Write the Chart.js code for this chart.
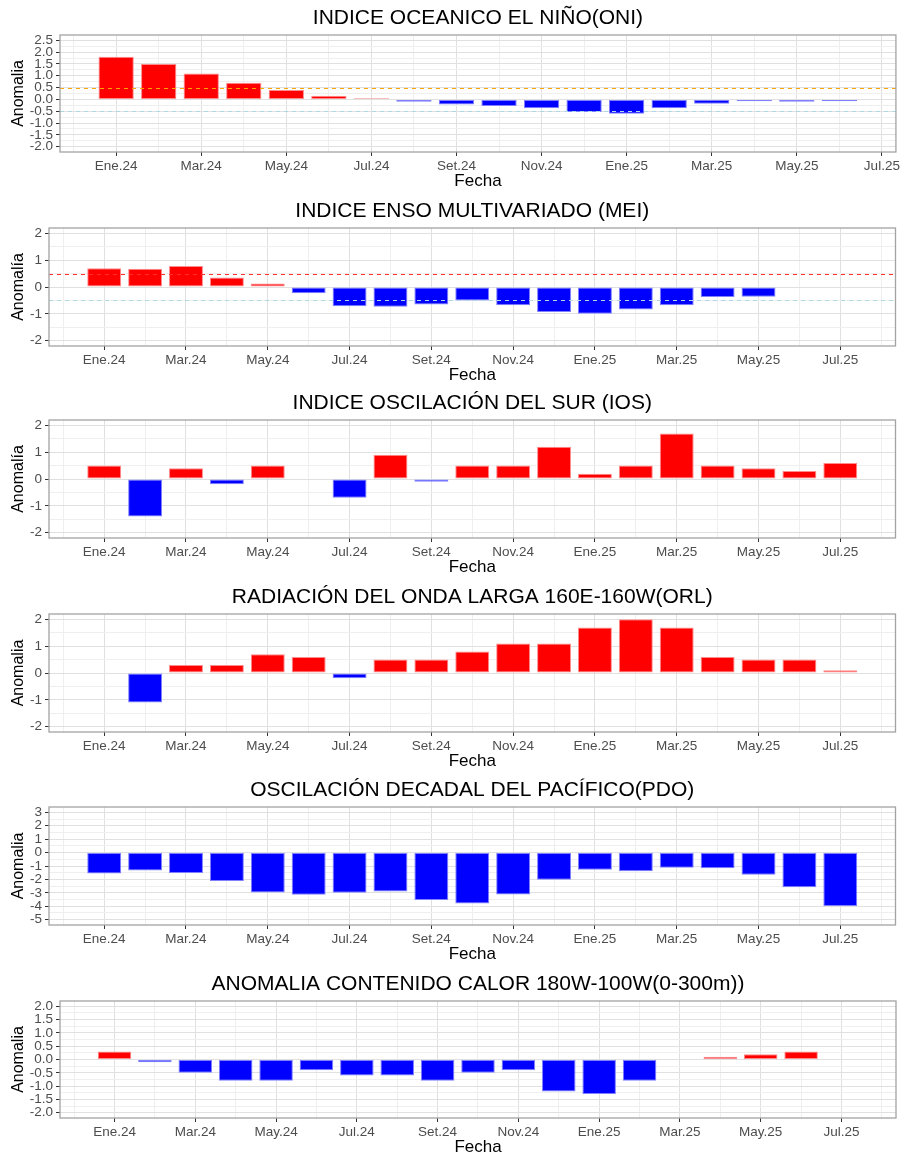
<!DOCTYPE html>
<html>
<head>
<meta charset="utf-8">
<title>Indices ENSO</title>
<script src="https://cdn.jsdelivr.net/npm/chart.js@4.4.1/dist/chart.umd.min.js"></script>
<style>
  body { margin: 0; background: #fff; }
  .panel { position: absolute; left: 0; width: 902px; }
</style>
</head>
<body>
<div class="panel" style="top:5px;height:188px"><canvas id="oni"></canvas></div>
<div class="panel" style="top:198px;height:189px"><canvas id="mei"></canvas></div>
<div class="panel" style="top:390px;height:189px"><canvas id="ios"></canvas></div>
<div class="panel" style="top:584px;height:189px"><canvas id="orl"></canvas></div>
<div class="panel" style="top:777px;height:189px"><canvas id="pdo"></canvas></div>
<div class="panel" style="top:971px;height:188px"><canvas id="calor"></canvas></div>
<script>
// meses (indice 0 = Ene.24)
const meses = ['Ene.24', 'Feb.24', 'Mar.24', 'Abr.24', 'May.24', 'Jun.24', 'Jul.24', 'Ago.24', 'Set.24', 'Oct.24',
    'Nov.24', 'Dic.24', 'Ene.25', 'Feb.25', 'Mar.25', 'Abr.25', 'May.25', 'Jun.25', 'Jul.25'];

const oni = [1.8, 1.5, 1.1, 0.7, 0.4, 0.15, 0.05, -0.1, -0.22, -0.28, -0.37, -0.53, -0.61, -0.37, -0.18, -0.08, -0.1, -0.08, null];
const mei = [0.7, 0.68, 0.78, 0.35, 0.13, -0.23, -0.72, -0.74, -0.65, -0.5, -0.68, -0.93, -1.0, -0.84, -0.68, -0.37, -0.36, null, null];
const ios = [0.5, -1.4, 0.4, -0.2, 0.5, null, -0.7, 0.9, -0.1, 0.5, 0.5, 1.2, 0.2, 0.5, 1.7, 0.5, 0.4, 0.3, 0.6];
const orl = [null, -1.1, 0.3, 0.3, 0.7, 0.6, -0.2, 0.5, 0.5, 0.8, 1.1, 1.1, 1.7, 2.0, 1.7, 0.6, 0.5, 0.5, 0.1];
const pdo = [-1.55, -1.33, -1.53, -2.12, -2.98, -3.15, -3.0, -2.9, -3.54, -3.79, -3.12, -2.02, -1.28, -1.4, -1.13, -1.16, -1.65, -2.58, -3.99];
const calor = [0.3, -0.1, -0.5, -0.8, -0.8, -0.4, -0.6, -0.6, -0.8, -0.5, -0.4, -1.2, -1.3, -0.8, null, 0.1, 0.2, 0.3, null];

// umbrales +/-0.5
const umbralesONI = [0.5, -0.5];
const umbralesMEI = [0.5, -0.5];

Chart.defaults.font.family = "'Liberation Sans', Arial, sans-serif";

// marco gris del panel y lineas de umbral punteadas
const marco = {
    id: 'marco',
    afterDatasetsDraw(chart, args, opts) {
        const { ctx, chartArea: a, scales: { y } } = chart;
        ctx.save();
        ctx.beginPath();
        ctx.rect(a.left, a.top, a.width, a.height);
        ctx.clip();
        (opts.lineas || []).forEach(l => {
            const py = Math.round(y.getPixelForValue(l.valor)) + 0.5;
            ctx.strokeStyle = l.color;
            ctx.lineWidth = 1.1;
            ctx.setLineDash([4, 4]);
            ctx.beginPath();
            ctx.moveTo(a.left, py);
            ctx.lineTo(a.right, py);
            ctx.stroke();
        });
        ctx.restore();
    },
    afterDraw(chart) {
        const { ctx, chartArea: a } = chart;
        ctx.save();
        ctx.strokeStyle = '#a3a3a3';
        ctx.lineWidth = 1.3;
        ctx.strokeRect(a.left, a.top, a.width, a.height);
        ctx.restore();
    }
};

function crearPanel(id, cfg) {
    const puntos = cfg.valores.map((v, i) => ({ x: i, y: v }));

    const ticksX = [];
    for (let i = Math.ceil(cfg.xMin); i <= Math.floor(cfg.xMax); i++) {
        ticksX.push({ value: i, principal: i % 2 === 0 });
    }
    const medio = cfg.paso / 2;
    const ticksY = [];
    for (let k = Math.ceil(cfg.yMin / medio - 1e-9); k <= Math.floor(cfg.yMax / medio + 1e-9); k++) {
        ticksY.push({ value: +(k * medio).toFixed(4), principal: Math.abs(k % 2) === 0 });
    }
    const esPrincipal = c => c.tick && c.tick.principal;

    new Chart(document.getElementById(id), {
        type: 'bar',
        data: {
            datasets: [{
                data: puntos,
                backgroundColor: c => (c.raw && c.raw.y < 0) ? '#0000ff' : '#ff0000',
                borderColor: c => (c.raw && c.raw.y < 0) ? '#8080ff' : '#ff8c8c',
                borderWidth: 1,
                borderSkipped: false,
                barPercentage: 0.83,
                categoryPercentage: 1
            }]
        },
        options: {
            responsive: true,
            maintainAspectRatio: false,
            animation: false,
            layout: { padding: { left: 0, right: 902 - cfg.derecha, top: 0, bottom: 0 } },
            plugins: {
                legend: { display: false },
                tooltip: { enabled: false },
                title: {
                    display: true,
                    text: cfg.titulo,
                    fullSize: false,
                    color: '#000',
                    font: { size: 21, weight: 'normal' },
                    padding: { top: 1, bottom: 3.8 }
                },
                marco: { lineas: cfg.lineas || [] }
            },
            scales: {
                x: {
                    type: 'linear',
                    min: cfg.xMin,
                    max: cfg.xMax,
                    offset: false,
                    afterBuildTicks: s => { s.ticks = ticksX.map(t => ({ ...t })); },
                    afterFit: s => { s.height = 41; },
                    ticks: {
                        autoSkip: false,
                        maxRotation: 0,
                        padding: 2,
                        color: '#4d4d4d',
                        font: { size: 13.5 },
                        callback: v => (v % 2 === 0 && meses[v]) ? meses[v] : ''
                    },
                    grid: {
                        offset: false,
                        color: c => esPrincipal(c) ? '#e0e0e0' : '#efefef',
                        tickColor: c => esPrincipal(c) ? '#333' : 'rgba(0,0,0,0)',
                        tickLength: 4
                    },
                    border: { display: false },
                    title: { display: true, text: 'Fecha', color: '#000', font: { size: 17 }, padding: { top: 0, bottom: 1 } }
                },
                y: {
                    min: cfg.yMin,
                    max: cfg.yMax,
                    afterBuildTicks: s => { s.ticks = ticksY.map(t => ({ ...t })); },
                    afterFit: s => { s.width = cfg.izquierda; },
                    ticks: {
                        autoSkip: false,
                        padding: 3,
                        color: '#4d4d4d',
                        font: { size: 13.5 },
                        callback: v => {
                            const r = v / cfg.paso;
                            return Math.abs(r - Math.round(r)) < 1e-6 ? v.toFixed(cfg.decimales) : '';
                        }
                    },
                    grid: {
                        color: c => esPrincipal(c) ? '#e0e0e0' : '#efefef',
                        tickColor: c => esPrincipal(c) ? '#333' : 'rgba(0,0,0,0)',
                        tickLength: 4
                    },
                    border: { display: false },
                    title: { display: true, text: cfg.tituloY, color: '#000', font: { size: 16 }, padding: { top: 9, bottom: 0 } }
                }
            }
        },
        plugins: [marco]
    });
}

crearPanel('oni', {
    titulo: 'INDICE OCEANICO EL NIÑO(ONI)', tituloY: 'Anomalia', valores: oni,
    xMin: -1.32, xMax: 18.33, yMin: -2.225, yMax: 2.725, paso: 0.5, decimales: 1,
    izquierda: 60, derecha: 896,
    lineas: [{ valor: umbralesONI[0], color: '#ffa500' }, { valor: umbralesONI[1], color: '#add8e6' }]
});
crearPanel('mei', {
    titulo: 'INDICE ENSO MULTIVARIADO (MEI)', tituloY: 'Anomalía', valores: mei,
    xMin: -1.35, xMax: 19.35, yMin: -2.2, yMax: 2.2, paso: 1, decimales: 0,
    izquierda: 49, derecha: 895.5,
    lineas: [{ valor: umbralesMEI[0], color: '#ff3030' }, { valor: umbralesMEI[1], color: '#add8e6' }]
});
crearPanel('ios', {
    titulo: 'INDICE OSCILACIÓN DEL SUR (IOS)', tituloY: 'Anomalía', valores: ios,
    xMin: -1.35, xMax: 19.35, yMin: -2.2, yMax: 2.2, paso: 1, decimales: 0,
    izquierda: 49, derecha: 895.5
});
crearPanel('orl', {
    titulo: 'RADIACIÓN DEL ONDA LARGA 160E-160W(ORL)', tituloY: 'Anomalia', valores: orl,
    xMin: -1.35, xMax: 19.35, yMin: -2.2, yMax: 2.2, paso: 1, decimales: 0,
    izquierda: 49, derecha: 895.5
});
crearPanel('pdo', {
    titulo: 'OSCILACIÓN DECADAL DEL PACÍFICO(PDO)', tituloY: 'Anomalia', valores: pdo,
    xMin: -1.35, xMax: 19.35, yMin: -5.4, yMax: 3.4, paso: 1, decimales: 0,
    izquierda: 49, derecha: 895.5
});
crearPanel('calor', {
    titulo: 'ANOMALIA CONTENIDO CALOR 180W-100W(0-300m))', tituloY: 'Anomalia', valores: calor,
    xMin: -1.35, xMax: 19.35, yMin: -2.2, yMax: 2.2, paso: 0.5, decimales: 1,
    izquierda: 60, derecha: 896
});
</script>
</body>
</html>
